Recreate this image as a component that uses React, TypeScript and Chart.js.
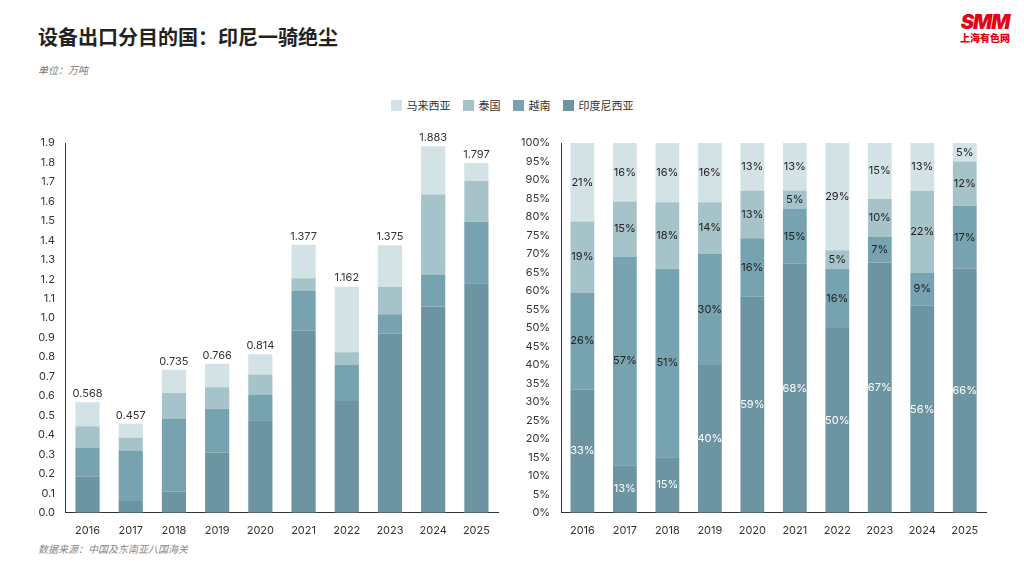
import React, { useRef, useEffect } from 'react'
import { Chart, registerables } from 'chart.js'

Chart.register(...registerables)

const years = ['2016', '2017', '2018', '2019', '2020', '2021', '2022', '2023', '2024', '2025']
const seriesNames = ['印度尼西亚', '越南', '泰国', '马来西亚']
const colors = ['#6d94a1', '#77a3b0', '#a6c3ca', '#d3e2e5']

// 万吨
const indonesia = [0.185, 0.06, 0.11, 0.31, 0.475, 0.935, 0.575, 0.92, 1.06, 1.18]
const vietnam = [0.15, 0.26, 0.375, 0.225, 0.13, 0.205, 0.185, 0.1, 0.165, 0.315]
const thailand = [0.11, 0.065, 0.13, 0.11, 0.105, 0.065, 0.065, 0.14, 0.41, 0.21]
const malaysia = [0.123, 0.072, 0.12, 0.121, 0.104, 0.172, 0.337, 0.215, 0.248, 0.092]
const totals = [0.568, 0.457, 0.735, 0.766, 0.814, 1.377, 1.162, 1.375, 1.883, 1.797]

// 占比 % (as labelled)
const pIndonesia = [33, 13, 15, 40, 59, 68, 50, 67, 56, 66]
const pVietnam = [26, 57, 51, 30, 16, 15, 16, 7, 9, 17]
const pThailand = [19, 15, 18, 14, 13, 5, 5, 10, 22, 12]
const pMalaysia = [21, 16, 16, 16, 13, 13, 29, 15, 13, 5]

const FONT = 'Inter, "Noto Sans CJK SC", sans-serif'

const totalLabels = {
  id: 'totalLabels',
  afterDatasetsDraw(chart: any) {
    const ctx = chart.ctx
    const meta = chart.getDatasetMeta(3)
    ctx.save()
    ctx.font = `11px ${FONT}`
    ctx.fillStyle = '#333'
    ctx.textAlign = 'center'
    ctx.textBaseline = 'bottom'
    meta.data.forEach((bar: any, i: number) => {
      ctx.fillText(totals[i].toFixed(3), bar.x, bar.y - 3)
    })
    ctx.restore()
  },
}

const segLabels = {
  id: 'segLabels',
  afterDatasetsDraw(chart: any) {
    const ctx = chart.ctx
    ctx.save()
    ctx.font = `11px ${FONT}`
    ctx.textAlign = 'center'
    ctx.textBaseline = 'middle'
    chart.data.datasets.forEach((ds: any, di: number) => {
      const meta = chart.getDatasetMeta(di)
      meta.data.forEach((bar: any, i: number) => {
        const y = (bar.y + bar.base) / 2
        ctx.fillStyle = di === 0 ? '#ffffff' : '#222'
        ctx.fillText(ds.labelsText[i] + '%', bar.x, y)
      })
    })
    ctx.restore()
  },
}

function makeOptions(max: number, step: number, pct: boolean): any {
  return {
    animation: false,
    responsive: false,
    maintainAspectRatio: false,
    layout: { padding: { top: 12, right: 4 } },
    plugins: { legend: { display: false }, tooltip: { enabled: false } },
    scales: {
      x: {
        stacked: true,
        grid: { display: false },
        border: { color: '#333' },
        ticks: { color: '#333', font: { size: 11, family: FONT } },
      },
      y: {
        stacked: true,
        min: 0,
        max,
        grid: { display: false },
        border: { color: '#333' },
        ticks: {
          stepSize: step,
          color: '#333',
          font: { size: 11, family: FONT },
          callback: (v: number) => (pct ? v + '%' : v.toFixed(1)),
        },
      },
    },
  }
}

function StackChart({ data, labelsText, max, step, pct, plugin, style }: any) {
  const ref = useRef<HTMLCanvasElement>(null)
  useEffect(() => {
    if (!ref.current) return
    const chart = new Chart(ref.current, {
      type: 'bar',
      data: {
        labels: years,
        datasets: data.map((d: number[], i: number) => ({
          label: seriesNames[i],
          data: d,
          labelsText: labelsText ? labelsText[i] : null,
          backgroundColor: colors[i],
          borderWidth: 0,
          barPercentage: 0.56,
          categoryPercentage: 1,
        })),
      },
      options: makeOptions(max, step, pct),
      plugins: [plugin],
    })
    return () => chart.destroy()
  }, [])
  return <canvas ref={ref} width={style.width} height={style.height} style={{ position: 'absolute', ...style }} />
}

export default function App() {
  const legend = [...seriesNames].reverse().map((n, k) => ({ n, c: colors[3 - k] }))
  const pct = [pIndonesia, pVietnam, pThailand, pMalaysia]
  // normalise the labelled shares so each column fills 100%
  const shares = pct.map((s) => s.map((v, i) => (v * 100) / pct.reduce((a, r) => a + r[i], 0)))
  return (
    <div style={{ position: 'relative', width: 1024, height: 576, margin: -8, background: '#fff', fontFamily: FONT, overflow: 'hidden' }}>
      <div style={{ position: 'absolute', left: 38, top: 22, fontSize: 20, fontWeight: 700, color: '#222' }}>设备出口分目的国：印尼一骑绝尘</div>
      <div style={{ position: 'absolute', right: 14, top: 12, textAlign: 'center', color: '#e60012', fontWeight: 900 }}>
        <div style={{ fontSize: 20, lineHeight: '20px', fontStyle: 'italic', letterSpacing: -1 }}>SMM</div>
        <div style={{ fontSize: 10, lineHeight: '12px' }}>上海有色网</div>
      </div>
      <div style={{ position: 'absolute', left: 38, top: 62, fontSize: 10, fontStyle: 'italic', color: '#777' }}>单位：万吨</div>
      <div style={{ position: 'absolute', left: 0, width: 1024, top: 97, display: 'flex', justifyContent: 'center', gap: 12, fontSize: 11, color: '#333' }}>
        {legend.map((l) => (
          <div key={l.n} style={{ display: 'flex', alignItems: 'center', gap: 5 }}>
            <span style={{ width: 11, height: 11, background: l.c, display: 'inline-block' }} />
            {l.n}
          </div>
        ))}
      </div>
      <StackChart
        data={[indonesia, vietnam, thailand, malaysia]}
        max={1.9}
        step={0.1}
        pct={false}
        plugin={totalLabels}
        style={{ left: 35, top: 131, width: 467, height: 409 }}
      />
      <StackChart
        data={shares}
        labelsText={pct}
        max={100}
        step={5}
        pct={true}
        plugin={segLabels}
        style={{ left: 518, top: 131, width: 472, height: 409 }}
      />
      <div style={{ position: 'absolute', left: 38, top: 541, fontSize: 10, fontStyle: 'italic', color: '#888' }}>数据来源：中国及东南亚八国海关</div>
    </div>
  )
}
